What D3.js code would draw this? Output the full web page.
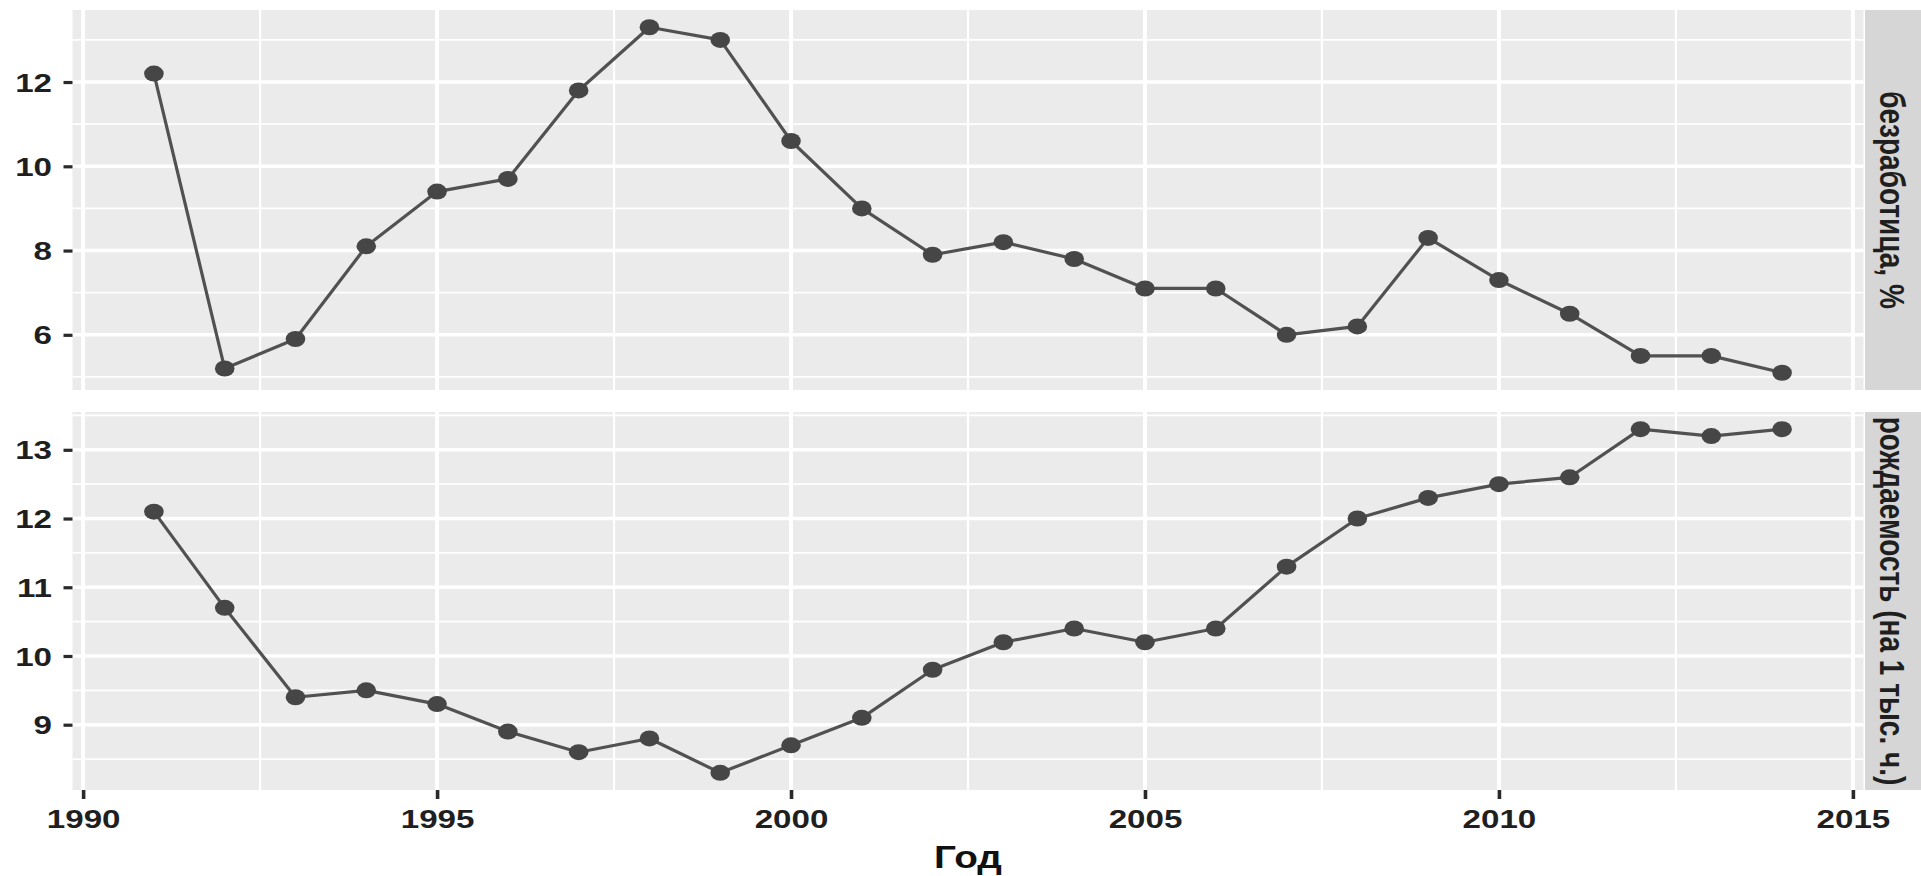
<!DOCTYPE html>
<html><head><meta charset="utf-8">
<script src="https://cdn.jsdelivr.net/npm/d3@7"></script>
<style>
html,body{margin:0;padding:0;background:#fff;}
svg{display:block;font-family:"Liberation Sans",Arial,sans-serif;}
</style>
</head><body>
<svg id="c" width="1921" height="876"></svg>
<script>
// ---- data ----
const years = [1991,1992,1993,1994,1995,1996,1997,1998,1999,2000,2001,2002,2003,2004,2005,2006,2007,2008,2009,2010,2011,2012,2013,2014];
const unemployment = [12.2,5.2,5.9,8.1,9.4,9.7,11.8,13.3,13.0,10.6,9.0,7.9,8.2,7.8,7.1,7.1,6.0,6.2,8.3,7.3,6.5,5.5,5.5,5.1];
const birthRate = [12.1,10.7,9.4,9.5,9.3,8.9,8.6,8.8,8.3,8.7,9.1,9.8,10.2,10.4,10.2,10.4,11.3,12.0,12.3,12.5,12.6,13.3,13.2,13.3];
const facetLabels = ["безработица, %", "рождаемость (на 1 тыс. ч.)"];
const xTicks = [1990,1995,2000,2005,2010,2015];
const xMinor = [1992.5,1997.5,2002.5,2007.5,2012.5];
const yTicksTop = [6,8,10,12];
const yMinorTop = [5,7,9,11,13];
const yTicksBottom = [9,10,11,12,13];
const yMinorBottom = [8.5,9.5,10.5,11.5,12.5,13.5];
const xTitle = "Год";

// ---- layout ----
const svg = d3.select("#c");
const L = 72.5, R = 1863.5;
const SX = 1.3; // horizontal stretch of the reference
const panels = [
  {top:10, bottom:390, values:unemployment, ticks:yTicksTop, minor:yMinorTop, label:facetLabels[0]},
  {top:412, bottom:790, values:birthRate, ticks:yTicksBottom, minor:yMinorBottom, label:facetLabels[1]}
];
function expand(ext){ const d=(ext[1]-ext[0])*0.05; return [ext[0]-d, ext[1]+d]; }
const x = d3.scaleLinear().domain(expand(d3.extent(years))).range([L,R]);

const panelBg = "#EBEBEB", stripBg = "#D6D6D6", ink = "#1f1f1f";
const lineCol = "#515151", ptCol = "#464646";

panels.forEach(p => {
  const y = d3.scaleLinear().domain(expand(d3.extent(p.values))).range([p.bottom, p.top]);
  const g = svg.append("g");
  g.append("rect").attr("x",L).attr("y",p.top).attr("width",R-L).attr("height",p.bottom-p.top).attr("fill",panelBg);
  // minor grid
  g.selectAll(".hm").data(p.minor).join("line")
    .attr("x1",L).attr("x2",R).attr("y1",d=>y(d)).attr("y2",d=>y(d))
    .attr("stroke","#fff").attr("stroke-width",1.8);
  g.selectAll(".vm").data(xMinor).join("line")
    .attr("y1",p.top).attr("y2",p.bottom).attr("x1",d=>x(d)).attr("x2",d=>x(d))
    .attr("stroke","#fff").attr("stroke-width",2.2);
  // major grid
  g.selectAll(".hM").data(p.ticks).join("line")
    .attr("x1",L).attr("x2",R).attr("y1",d=>y(d)).attr("y2",d=>y(d))
    .attr("stroke","#fff").attr("stroke-width",3.4);
  g.selectAll(".vM").data(xTicks).join("line")
    .attr("y1",p.top).attr("y2",p.bottom).attr("x1",d=>x(d)).attr("x2",d=>x(d))
    .attr("stroke","#fff").attr("stroke-width",4);
  // data
  const pts = years.map((yr,i)=>({yr, v:p.values[i]}));
  g.append("path").datum(pts)
    .attr("d", d3.line().x(d=>x(d.yr)).y(d=>y(d.v)))
    .attr("fill","none").attr("stroke",lineCol).attr("stroke-width",3.2).attr("stroke-linejoin","round");
  g.selectAll(".pt").data(pts).join("ellipse")
    .attr("cx",d=>x(d.yr)).attr("cy",d=>y(d.v)).attr("rx",9.8).attr("ry",8).attr("fill",ptCol);
  // y axis
  const ax = g.append("g").attr("transform",`translate(${L},0)`)
    .call(d3.axisLeft(y).tickValues(p.ticks).tickSize(9).tickFormat(d3.format("d")));
  ax.select(".domain").remove();
  ax.selectAll(".tick line").attr("stroke","#2a2a2a").attr("stroke-width",3.2);
  ax.selectAll(".tick text")
    .attr("x",0).attr("dy",null)
    .attr("transform",`translate(-20.5,0) scale(${SX},1)`)
    .attr("dominant-baseline","central")
    .attr("font-size",25.5).attr("font-weight","bold").attr("fill",ink)
    .attr("font-family","'Liberation Sans',Arial,sans-serif");
  // strip
  g.append("rect").attr("x",R+1.5).attr("y",p.top).attr("width",1921-R).attr("height",p.bottom-p.top).attr("fill",stripBg);
  g.append("text")
    .attr("transform",`translate(1892,${(p.top+p.bottom)/2}) rotate(90) scale(1,1.25)`)
    .attr("text-anchor","middle").attr("dominant-baseline","central")
    .attr("font-size",28).attr("font-weight","bold").attr("fill",ink)
    .text(p.label);
});

// x axis
const xa = svg.append("g").attr("transform",`translate(0,790)`)
  .call(d3.axisBottom(x).tickValues(xTicks).tickSize(9).tickFormat(d3.format("d")));
xa.select(".domain").remove();
xa.selectAll(".tick line").attr("stroke","#2a2a2a").attr("stroke-width",3.6);
xa.selectAll(".tick text")
  .attr("y",0).attr("dy",null)
  .attr("transform",`translate(0,38) scale(${SX},1)`)
  .attr("font-size",25.5).attr("font-weight","bold").attr("fill",ink)
  .attr("font-family","'Liberation Sans',Arial,sans-serif");

// x title
svg.append("text")
  .attr("transform",`translate(${(L+R)/2},868) scale(1.25,1)`)
  .attr("text-anchor","middle")
  .attr("font-size",31).attr("font-weight","bold").attr("fill","#111")
  .text(xTitle);
</script>
</body></html>
